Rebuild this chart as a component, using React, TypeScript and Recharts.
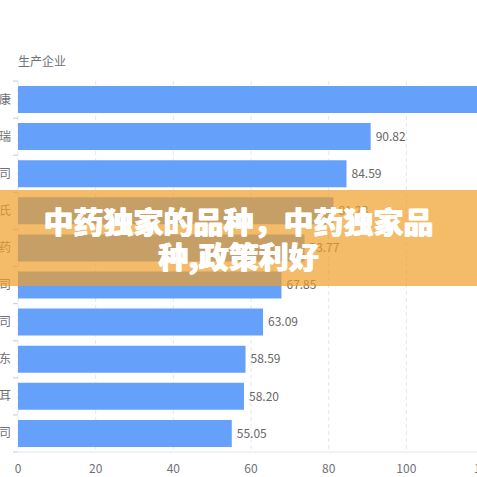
import React from 'react'
import { BarChart, Bar, XAxis, YAxis, CartesianGrid, LabelList } from 'recharts'

// only the last character of each company name is visible in the cropped picture
const companies = ['康', '瑞', '司', '氏', '药', '司', '司', '东', '耳', '司']
const scores = [119.6, 90.82, 84.59, 81.23, 73.77, 67.85, 63.09, 58.59, 58.2, 55.05]
const xTicks = [0, 20, 40, 60, 80, 100, 120]
const axisTitle = '生产企业'
const bannerLines = ['中药独家的品种，中药独家品', '种,政策利好']

const data = companies.map((name, i) => ({ name, value: scores[i] }))

const BAND = 37

const CategoryTick = (props: any) => {
  const { y, payload, index } = props
  const last = index === companies.length - 1
  return (
    <g>
      <line x1={13} x2={18} y1={y - BAND / 2} y2={y - BAND / 2} stroke="#c8ccd4" />
      {last && <line x1={13} x2={18} y1={y + BAND / 2} y2={y + BAND / 2} stroke="#c8ccd4" />}
      <text x={11} y={y} dy={4} textAnchor="end" fill="#6e7079" fontSize={12}>
        {payload.value}
      </text>
    </g>
  )
}

export default function App() {
  return (
    <div
      style={{
        position: 'fixed',
        left: 0,
        top: 0,
        width: 477,
        height: 477,
        overflow: 'hidden',
        background: '#fff',
        fontFamily: '"Noto Sans CJK SC", "Noto Sans", sans-serif',
      }}
    >
      <div style={{ position: 'absolute', left: 18, top: 52, fontSize: 12, color: '#6e7079' }}>
        {axisTitle}
      </div>
      <BarChart
        width={500}
        height={477}
        data={data}
        layout="vertical"
        margin={{ top: 81, right: 16, left: 0, bottom: 0 }}
        barCategoryGap={5}
      >
        <CartesianGrid horizontal={false} stroke="#e0e6f1" strokeDasharray="4 3" />
        <XAxis
          type="number"
          domain={[0, 120]}
          ticks={xTicks}
          height={25}
          tickLine={false}
          axisLine={{ stroke: '#e0e6f1' }}
          tick={{ fill: '#6e7079', fontSize: 12 }}
          tickMargin={6}
          interval={0}
        />
        <YAxis
          type="category"
          dataKey="name"
          width={18}
          axisLine={false}
          tickLine={false}
          tick={<CategoryTick />}
          interval={0}
        />
        <Bar dataKey="value" fill="#65a1fb" isAnimationActive={false}>
          <LabelList
            dataKey="value"
            position="right"
            offset={5}
            fill="#666"
            fontSize={12}
            formatter={(v: any) => Number(v).toFixed(2)}
          />
        </Bar>
      </BarChart>
      <div
        style={{
          position: 'absolute',
          left: 0,
          top: 190,
          width: 477,
          height: 96,
          background: 'rgba(239,158,40,0.7)',
          color: '#fff',
          fontWeight: 900,
          fontSize: 30,
          lineHeight: '35px',
          textAlign: 'center',
          paddingTop: 13,
          boxSizing: 'border-box',
          textShadow: '0.5px 0 0 #fff, -0.5px 0 0 #fff',
          whiteSpace: 'nowrap',
        }}
      >
        {bannerLines[0]}
        <br />
        {bannerLines[1]}
      </div>
    </div>
  )
}
